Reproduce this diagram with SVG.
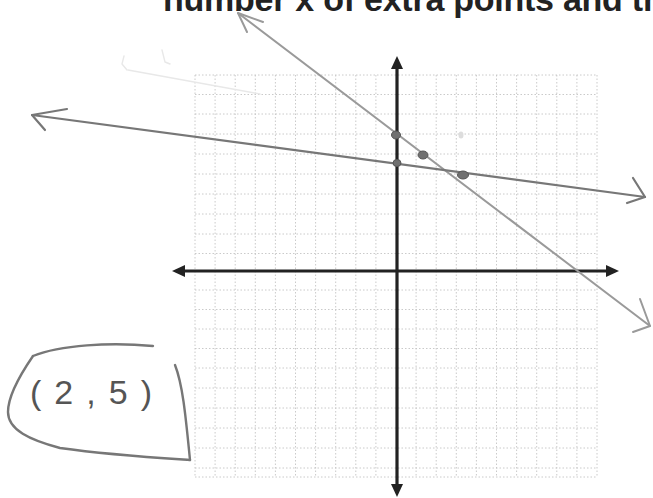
<svg xmlns="http://www.w3.org/2000/svg" width="653" height="498" viewBox="0 0 653 498">
<defs>
<style>
.grid line{stroke:#c4c4c4;stroke-width:0.9;stroke-dasharray:1.5 2}
.axis{stroke:#222;stroke-width:3.2;fill:none}
.head{fill:#222}
.pen{fill:none;stroke-linecap:round;stroke-linejoin:round}
.steep{stroke:#9a9a9a;stroke-width:2}
.shallow{stroke:#777;stroke-width:2.2}
.dot{fill:#707070;stroke:#555;stroke-width:1}
.box{stroke:#777;stroke-width:2.4}
</style>
</defs>
<rect width="653" height="498" fill="#fff"/>
<g id="title">
<text x="163" y="11" font-family="Liberation Sans, Arial, sans-serif" font-weight="bold" font-size="34" letter-spacing="-0.25" fill="#222">number x of extra points and th</text>
</g>
<g id="grid" class="grid">
<line x1="195" y1="75" x2="195" y2="477"/><line x1="215.1" y1="75" x2="215.1" y2="477"/><line x1="235.2" y1="75" x2="235.2" y2="477"/><line x1="255.3" y1="75" x2="255.3" y2="477"/><line x1="275.4" y1="75" x2="275.4" y2="477"/><line x1="295.5" y1="75" x2="295.5" y2="477"/><line x1="315.6" y1="75" x2="315.6" y2="477"/><line x1="335.7" y1="75" x2="335.7" y2="477"/><line x1="355.8" y1="75" x2="355.8" y2="477"/><line x1="375.9" y1="75" x2="375.9" y2="477"/><line x1="416.1" y1="75" x2="416.1" y2="477"/><line x1="436.2" y1="75" x2="436.2" y2="477"/><line x1="456.3" y1="75" x2="456.3" y2="477"/><line x1="476.4" y1="75" x2="476.4" y2="477"/><line x1="496.5" y1="75" x2="496.5" y2="477"/><line x1="516.6" y1="75" x2="516.6" y2="477"/><line x1="536.7" y1="75" x2="536.7" y2="477"/><line x1="556.8" y1="75" x2="556.8" y2="477"/><line x1="576.9" y1="75" x2="576.9" y2="477"/><line x1="597" y1="75" x2="597" y2="477"/>
<line x1="195" y1="75" x2="597" y2="75"/><line x1="195" y1="94.5" x2="597" y2="94.5"/><line x1="195" y1="114" x2="597" y2="114"/><line x1="195" y1="134" x2="597" y2="134"/><line x1="195" y1="154" x2="597" y2="154"/><line x1="195" y1="174" x2="597" y2="174"/><line x1="195" y1="194" x2="597" y2="194"/><line x1="195" y1="214" x2="597" y2="214"/><line x1="195" y1="234" x2="597" y2="234"/><line x1="195" y1="253.5" x2="597" y2="253.5"/><line x1="195" y1="290" x2="597" y2="290"/><line x1="195" y1="309.5" x2="597" y2="309.5"/><line x1="195" y1="329" x2="597" y2="329"/><line x1="195" y1="348.5" x2="597" y2="348.5"/><line x1="195" y1="368" x2="597" y2="368"/><line x1="195" y1="388" x2="597" y2="388"/><line x1="195" y1="408" x2="597" y2="408"/><line x1="195" y1="428" x2="597" y2="428"/><line x1="195" y1="448" x2="597" y2="448"/><line x1="195" y1="468" x2="597" y2="468"/><line x1="195" y1="477" x2="597" y2="477"/>
</g>
<g id="faint" class="pen" stroke="#e8e8e8" stroke-width="1.4">
<path d="M124,56 L122,64 L127,70"/>
<path d="M162,50 L165,62 L170,64"/>
<path d="M128,70 L260,94"/>
</g>
<g id="axes">
<line class="axis" x1="182" y1="271" x2="608" y2="271"/>
<polygon class="head" points="172,271 185,265 185,277"/>
<polygon class="head" points="619,271 606,265 606,277"/>
<line class="axis" x1="397" y1="68" x2="397" y2="486"/>
<polygon class="head" points="397,56 391,69 403,69"/>
<polygon class="head" points="397,497 391,484 403,484"/>
</g>
<g id="connectors">
<g id="steep-line" class="pen steep">
<path d="M238,13 L650,326"/>
<path d="M263,22 L238,13 L247,32"/>
<path d="M640,299 L650,326 L633,332"/>
</g>
<g id="shallow-line" class="pen shallow">
<path d="M32,115 L645,197"/>
<path d="M67,109 L32,115 L45,130"/>
<path d="M633,178 L645,197 L627,203"/>
</g>
</g>
<g id="points">
<ellipse class="dot" cx="396" cy="135" rx="4.5" ry="4"/>
<ellipse class="dot" cx="423" cy="155" rx="5" ry="4"/>
<ellipse class="dot" cx="463" cy="175" rx="5.5" ry="4"/>
<ellipse class="dot" cx="397" cy="163" rx="4" ry="3.5"/>
<ellipse cx="461" cy="135" rx="2.5" ry="3.5" fill="#ddd"/>
</g>
<g id="answer">
<path class="pen box" d="M33,356 C60,345 110,342 153,346"/>
<path class="pen box" d="M33,356 C22,372 8,395 8,412 C8,430 30,440 60,448 C110,455 160,458 190,460"/>
<path class="pen box" d="M175,365 C183,385 186,420 190,460"/>
<text x="30" y="404" font-family="Liberation Sans, Arial, sans-serif" font-size="34" fill="#555" textLength="122" lengthAdjust="spacing">(2,5)</text>
</g>
</svg>
